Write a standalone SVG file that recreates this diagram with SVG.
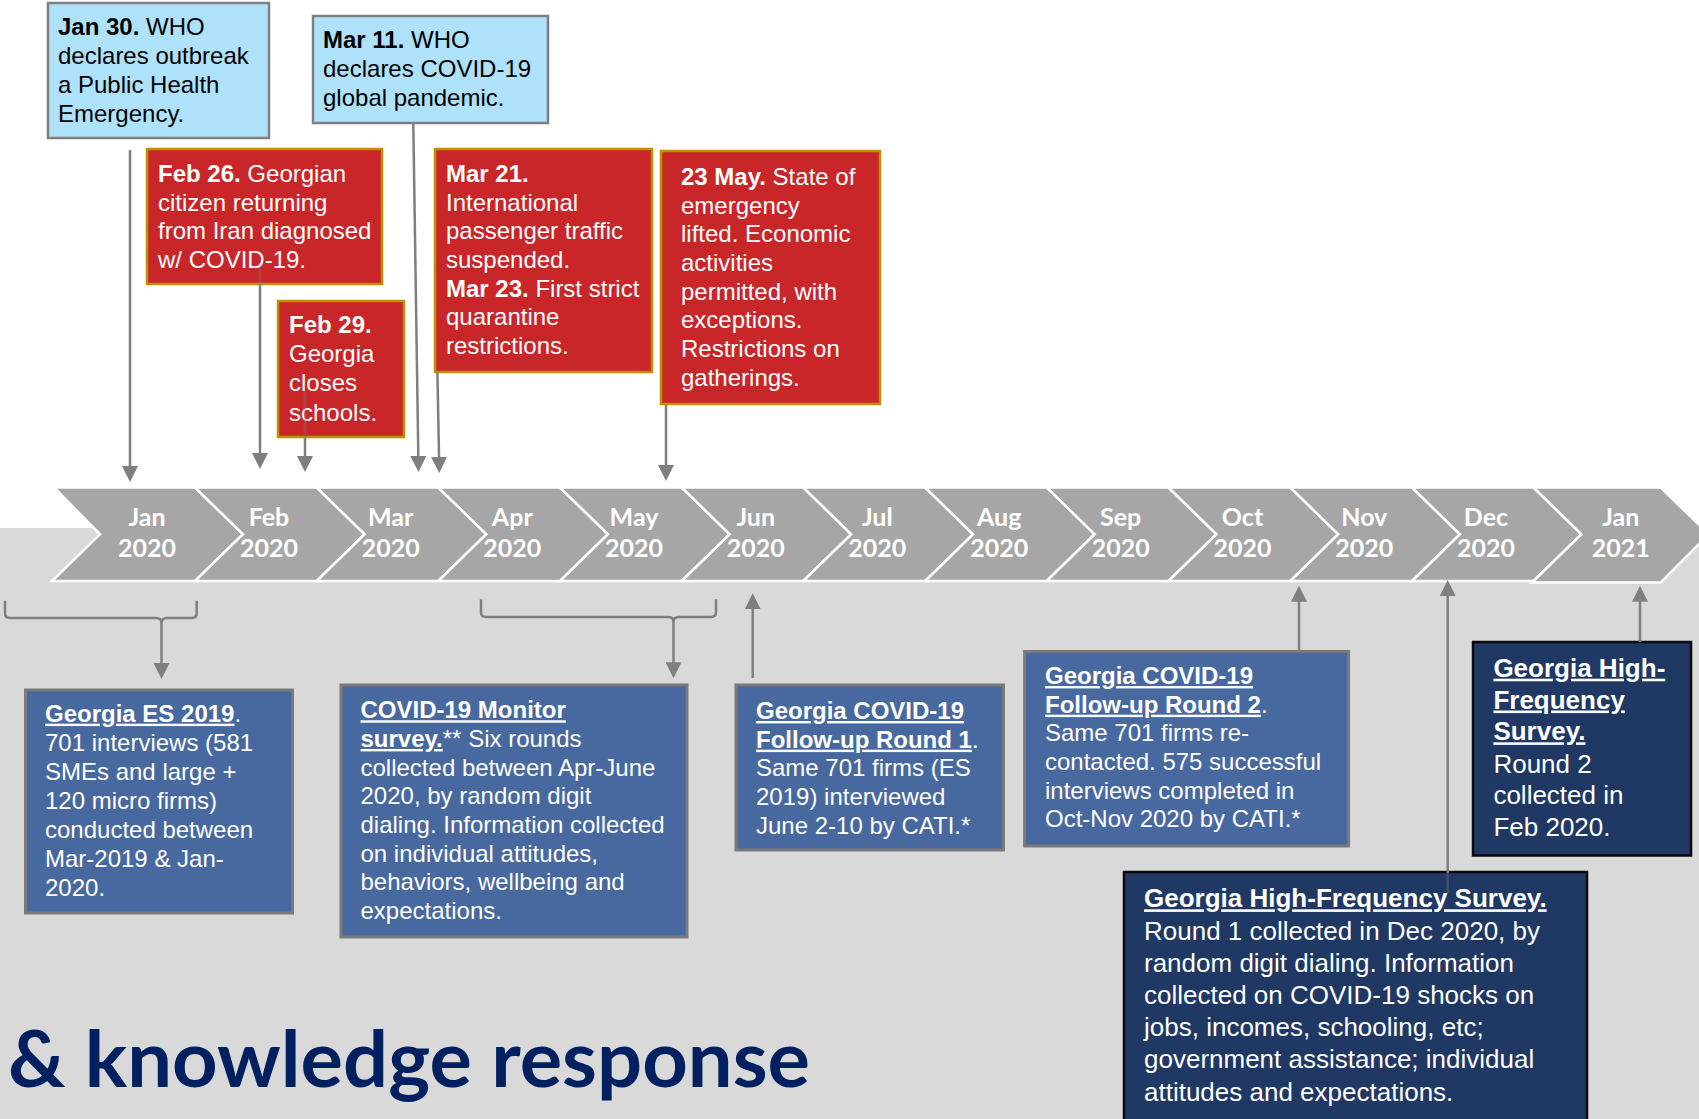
<svg xmlns="http://www.w3.org/2000/svg" width="1699" height="1119" viewBox="0 0 1699 1119">
  <defs>
    <style>
      .t{font-family:"Liberation Sans",Arial,sans-serif;font-size:24px}
      .t26{font-size:26px}
      .k{fill:#000}
      .w{fill:#fff}
      .b{font-weight:bold}
      .u{text-decoration:underline}
      .who{fill:#aee2fb;stroke:#7f7f7f;stroke-width:2.5}
      .evt{fill:#c9262a;stroke:#bf9000;stroke-width:2.5}
      .srv{fill:#4869a0;stroke:#7a7a7a;stroke-width:3}
      .hfs{fill:#1f3864;stroke:#0a0a0a;stroke-width:2.5}
      .chev{fill:#a6a6a6;stroke:#fff;stroke-width:2.5;stroke-linejoin:miter}
      .mo{font-family:Lato,"Open Sans",sans-serif;font-weight:bold;font-size:25px;fill:#fff;text-anchor:middle}
      .ln{fill:none;stroke:#7f7f7f;stroke-width:2.5}
      .faint{fill:none;stroke:#7f7f7f;stroke-width:2.5;stroke-opacity:0.35}
      .arr{marker-end:url(#ah)}
      .title{font-family:Lato,"Open Sans",sans-serif;font-weight:bold;font-size:78px;fill:#002060}
    </style>
    <marker id="ah" viewBox="0 0 16 16" refX="13" refY="8" markerWidth="16" markerHeight="16" markerUnits="userSpaceOnUse" orient="auto">
      <path d="M0,0 L16,8 L0,16 z" fill="#7f7f7f"/>
    </marker>
  </defs>

  <!-- canvas: white upper half, light grey lower half -->
  <rect x="0" y="0" width="1699" height="1119" fill="#fff"/>
  <rect x="0" y="528" width="1699" height="591" fill="#d9d9d9"/>

  <!-- month timeline band -->
  <g id="timeline">
    <polygon class="chev" points="54,487.5 195,487.5 243,534.25 195,581 52,581 100,534.25"/>
    <polygon class="chev" points="195,487.5 316.7,487.5 364.7,534.25 316.7,581 195,581 243,534.25"/>
    <polygon class="chev" points="316.7,487.5 438.3,487.5 486.3,534.25 438.3,581 316.7,581 364.7,534.25"/>
    <polygon class="chev" points="438.3,487.5 560,487.5 608,534.25 560,581 438.3,581 486.3,534.25"/>
    <polygon class="chev" points="560,487.5 681.7,487.5 729.7,534.25 681.7,581 560,581 608,534.25"/>
    <polygon class="chev" points="681.7,487.5 803.3,487.5 851.3,534.25 803.3,581 681.7,581 729.7,534.25"/>
    <polygon class="chev" points="803.3,487.5 925.2,487.5 973.2,534.25 925.2,581 803.3,581 851.3,534.25"/>
    <polygon class="chev" points="925.2,487.5 1046.7,487.5 1094.7,534.25 1046.7,581 925.2,581 973.2,534.25"/>
    <polygon class="chev" points="1046.7,487.5 1168.5,487.5 1216.5,534.25 1168.5,581 1046.7,581 1094.7,534.25"/>
    <polygon class="chev" points="1168.5,487.5 1290.3,487.5 1338.3,534.25 1290.3,581 1168.5,581 1216.5,534.25"/>
    <polygon class="chev" points="1290.3,487.5 1412,487.5 1460,534.25 1412,581 1290.3,581 1338.3,534.25"/>
    <polygon class="chev" points="1412,487.5 1533.5,487.5 1581.5,534.25 1533.5,581 1412,581 1460,534.25"/>
    <polygon class="chev" points="1533.5,487.5 1660.7,487.5 1708.7,534.25 1660.7,582.5 1532,582.5 1581.5,534.25"/>

    <text class="mo"><tspan x="147" y="526">Jan</tspan><tspan x="147" y="557">2020</tspan></text>
    <text class="mo"><tspan x="269" y="526">Feb</tspan><tspan x="269" y="557">2020</tspan></text>
    <text class="mo"><tspan x="390.7" y="526">Mar</tspan><tspan x="390.7" y="557">2020</tspan></text>
    <text class="mo"><tspan x="512.3" y="526">Apr</tspan><tspan x="512.3" y="557">2020</tspan></text>
    <text class="mo"><tspan x="634" y="526">May</tspan><tspan x="634" y="557">2020</tspan></text>
    <text class="mo"><tspan x="755.7" y="526">Jun</tspan><tspan x="755.7" y="557">2020</tspan></text>
    <text class="mo"><tspan x="877.3" y="526">Jul</tspan><tspan x="877.3" y="557">2020</tspan></text>
    <text class="mo"><tspan x="999.2" y="526">Aug</tspan><tspan x="999.2" y="557">2020</tspan></text>
    <text class="mo"><tspan x="1120.7" y="526">Sep</tspan><tspan x="1120.7" y="557">2020</tspan></text>
    <text class="mo"><tspan x="1242.5" y="526">Oct</tspan><tspan x="1242.5" y="557">2020</tspan></text>
    <text class="mo"><tspan x="1364.3" y="526">Nov</tspan><tspan x="1364.3" y="557">2020</tspan></text>
    <text class="mo"><tspan x="1486" y="526">Dec</tspan><tspan x="1486" y="557">2020</tspan></text>
    <text class="mo"><tspan x="1620.7" y="526">Jan</tspan><tspan x="1620.7" y="557">2021</tspan></text>
  </g>

  <!-- event boxes above the band -->
  <g id="who-jan30">
    <rect class="who" x="48" y="3" width="221" height="135"/>
    <text class="t k">
      <tspan x="58" y="35"><tspan class="b">Jan 30.</tspan> WHO</tspan>
      <tspan x="58" y="64">declares outbreak</tspan>
      <tspan x="58" y="93">a Public Health</tspan>
      <tspan x="58" y="122">Emergency.</tspan>
    </text>
  </g>

  <g id="who-mar11">
    <rect class="who" x="313" y="16" width="235" height="107"/>
    <text class="t k">
      <tspan x="323" y="48"><tspan class="b">Mar 11.</tspan> WHO</tspan>
      <tspan x="323" y="77">declares COVID-19</tspan>
      <tspan x="323" y="106">global pandemic.</tspan>
    </text>
  </g>

  <g id="evt-feb26">
    <rect class="evt" x="147" y="149" width="235" height="135"/>
    <text class="t w">
      <tspan x="158" y="182"><tspan class="b">Feb 26.</tspan> Georgian</tspan>
      <tspan x="158" y="210.7">citizen returning</tspan>
      <tspan x="158" y="239.3">from Iran diagnosed</tspan>
      <tspan x="158" y="268">w/ COVID-19.</tspan>
    </text>
  </g>

  <g id="evt-feb29">
    <rect class="evt" x="278" y="301" width="126" height="136"/>
    <text class="t w">
      <tspan x="289" y="333" class="b">Feb 29.</tspan>
      <tspan x="289" y="362">Georgia</tspan>
      <tspan x="289" y="391">closes</tspan>
      <tspan x="289" y="420.5">schools.</tspan>
    </text>
  </g>

  <g id="evt-mar21">
    <rect class="evt" x="435" y="149" width="217" height="223"/>
    <text class="t w">
      <tspan x="446" y="182" class="b">Mar 21.</tspan>
      <tspan x="446" y="210.7">International</tspan>
      <tspan x="446" y="239.3">passenger traffic</tspan>
      <tspan x="446" y="268">suspended.</tspan>
      <tspan x="446" y="296.7"><tspan class="b">Mar 23.</tspan> First strict</tspan>
      <tspan x="446" y="325.3">quarantine</tspan>
      <tspan x="446" y="354">restrictions.</tspan>
    </text>
  </g>

  <g id="evt-may23">
    <rect class="evt" x="661" y="151" width="219" height="253"/>
    <text class="t w">
      <tspan x="681" y="185"><tspan class="b">23 May.</tspan> State of</tspan>
      <tspan x="681" y="213.7">emergency</tspan>
      <tspan x="681" y="242.3">lifted. Economic</tspan>
      <tspan x="681" y="271">activities</tspan>
      <tspan x="681" y="299.7">permitted, with</tspan>
      <tspan x="681" y="328.3">exceptions.</tspan>
      <tspan x="681" y="357">Restrictions on</tspan>
      <tspan x="681" y="385.7">gatherings.</tspan>
    </text>
  </g>

  <!-- survey boxes below the band -->
  <g id="srv-es2019">
    <rect class="srv" x="25.5" y="690" width="267" height="223"/>
    <text class="t w">
      <tspan x="45" y="721.7"><tspan class="b u">Georgia ES 2019</tspan>.</tspan>
      <tspan x="45" y="750.7">701 interviews (581</tspan>
      <tspan x="45" y="779.7">SMEs and large +</tspan>
      <tspan x="45" y="808.7">120 micro firms)</tspan>
      <tspan x="45" y="837.7">conducted between</tspan>
      <tspan x="45" y="866.7">Mar-2019 &amp; Jan-</tspan>
      <tspan x="45" y="895.7">2020.</tspan>
    </text>
  </g>

  <g id="srv-monitor">
    <rect class="srv" x="341" y="685" width="346" height="252"/>
    <text class="t w">
      <tspan x="360.5" y="718.3" class="b u">COVID-19 Monitor</tspan>
      <tspan x="360.5" y="747"><tspan class="b u">survey.</tspan>** Six rounds</tspan>
      <tspan x="360.5" y="775.7">collected between Apr-June</tspan>
      <tspan x="360.5" y="804.3">2020, by random digit</tspan>
      <tspan x="360.5" y="833">dialing. Information collected</tspan>
      <tspan x="360.5" y="861.7">on individual attitudes,</tspan>
      <tspan x="360.5" y="890.3">behaviors, wellbeing and</tspan>
      <tspan x="360.5" y="919">expectations.</tspan>
    </text>
  </g>

  <g id="srv-round1">
    <rect class="srv" x="736" y="685" width="267.5" height="165"/>
    <text class="t w">
      <tspan x="756" y="719" class="b u">Georgia COVID-19</tspan>
      <tspan x="756" y="747.7"><tspan class="b u">Follow-up Round 1</tspan>.</tspan>
      <tspan x="756" y="776.3">Same 701 firms (ES</tspan>
      <tspan x="756" y="805">2019) interviewed</tspan>
      <tspan x="756" y="833.7">June 2-10 by CATI.*</tspan>
    </text>
  </g>

  <g id="srv-round2">
    <rect class="srv" x="1024.6" y="651.5" width="324" height="194.5"/>
    <text class="t w">
      <tspan x="1045" y="684" class="b u">Georgia COVID-19</tspan>
      <tspan x="1045" y="712.7"><tspan class="b u">Follow-up Round 2</tspan>.</tspan>
      <tspan x="1045" y="741.3">Same 701 firms re-</tspan>
      <tspan x="1045" y="770">contacted. 575 successful</tspan>
      <tspan x="1045" y="798.7">interviews completed in</tspan>
      <tspan x="1045" y="827.3">Oct-Nov 2020 by CATI.*</tspan>
    </text>
  </g>

  <g id="hfs-round2">
    <rect class="hfs" x="1473" y="642" width="218" height="213.5"/>
    <text class="t t26 w">
      <tspan x="1493.4" y="676.7" class="b u">Georgia High-</tspan>
      <tspan x="1493.4" y="708.5" class="b u">Frequency</tspan>
      <tspan x="1493.4" y="740.3" class="b u">Survey.</tspan>
      <tspan x="1493.4" y="772.5">Round 2</tspan>
      <tspan x="1493.4" y="804.3">collected in</tspan>
      <tspan x="1493.4" y="836.3">Feb 2020.</tspan>
    </text>
  </g>

  <g id="hfs-round1">
    <rect class="hfs" x="1124" y="872" width="463" height="262"/>
    <text class="t t26 w">
      <tspan x="1144" y="907.3" class="b u">Georgia High-Frequency Survey.</tspan>
      <tspan x="1144" y="939.5">Round 1 collected in Dec 2020, by</tspan>
      <tspan x="1144" y="971.7">random digit dialing. Information</tspan>
      <tspan x="1144" y="1004">collected on COVID-19 shocks on</tspan>
      <tspan x="1144" y="1036">jobs, incomes, schooling, etc;</tspan>
      <tspan x="1144" y="1068.3">government assistance; individual</tspan>
      <tspan x="1144" y="1100.5">attitudes and expectations.</tspan>
    </text>
  </g>

  <!-- connectors: event pointers down to the band, survey pointers up to it -->
  <g id="connectors">
    <path class="ln arr" d="M130,150 V479"/>
    <path class="faint" d="M260,267 V284"/>
    <path class="ln arr" d="M260,284 V466"/>
    <path class="faint" d="M305,390 V437"/>
    <path class="ln arr" d="M305,437 V469"/>
    <path class="ln arr" d="M413.3,123 L418.5,469"/>
    <path class="ln arr" d="M437.4,372 L439.3,470"/>
    <path class="ln arr" d="M666,405 V478"/>

    <path class="ln" d="M5,600.7 V613 Q5,618 10,618 H156 Q161.5,618 161.5,623 Q161.5,618 167,618 H191.7 Q196.7,618 196.7,613 V600.7"/>
    <path class="ln arr" d="M161.5,623 V676"/>
    <path class="ln" d="M481,599.3 V612 Q481,617 486,617 H668 Q673.5,617 673.5,622 Q673.5,617 679,617 H711 Q716,617 716,612 V599.3"/>
    <path class="ln arr" d="M673.5,622 V675.3"/>

    <path class="ln arr" d="M752.7,678 V596.3"/>
    <path class="ln arr" d="M1299,651 V588.7"/>
    <path class="faint" d="M1447.7,893 V873"/>
    <path class="ln arr" d="M1447.7,873 V583"/>
    <path class="ln arr" d="M1640,642 V588.7"/>
  </g>

  <text class="title" x="8" y="1086.7" textLength="802" lengthAdjust="spacingAndGlyphs">&amp; knowledge response</text>
</svg>
